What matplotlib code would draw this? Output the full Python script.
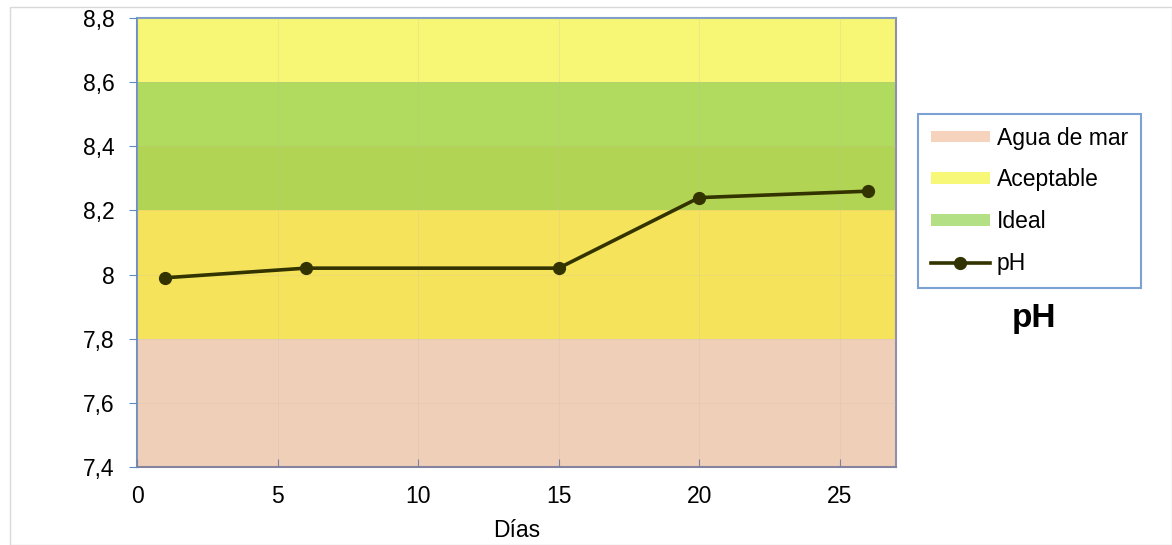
import matplotlib
matplotlib.use("Agg")
import matplotlib.pyplot as plt
from matplotlib.ticker import FuncFormatter, MultipleLocator
from matplotlib.patches import Patch, Rectangle
from matplotlib.lines import Line2D

dias = [1, 6, 15, 20, 26]
ph = [7.99, 8.02, 8.02, 8.24, 8.26]

# bands: (ymin, ymax, color)
band_edges = [7.4, 7.8, 8.2, 8.4, 8.6, 8.8]
band_colors = ["#F0CFB8", "#F5E35C", "#B2D455", "#B1DB5E", "#F7F775"]
legend_labels = ["Agua de mar", "Aceptable", "Ideal", "pH"]
legend_colors = ["#F5D3BD", "#F8F878", "#B3DF85"]

plt.rcParams['font.family'] = ['Liberation Sans', 'DejaVu Sans']
FS = 16.5

fig = plt.figure(figsize=(11.72, 5.45), dpi=100)
fig.patches.append(Rectangle((10/1172, 0), 1 - 10/1172, 1 - 7/545, transform=fig.transFigure,
                             fill=False, edgecolor="#D9D9D9", linewidth=1))
ax = fig.add_axes([137/1172, 1 - 467/545, (896 - 137)/1172, (467 - 18)/545])

for i, c in enumerate(band_colors):
    ax.axhspan(band_edges[i], band_edges[i + 1], color=c, zorder=0, linewidth=0)

ax.plot(dias, ph, color="#333300", linewidth=2.6, marker="o", markersize=8.5, zorder=3)

ax.set_xlim(0, 27)
ax.set_ylim(7.4, 8.8)
ax.xaxis.set_major_locator(MultipleLocator(5))
ax.yaxis.set_major_locator(MultipleLocator(0.2))

def fmt(v, pos):
    s = ("%.1f" % v)
    if s.endswith(".0"):
        s = s[:-2]
    return s.replace(".", ",")

ax.yaxis.set_major_formatter(FuncFormatter(fmt))
ax.xaxis.set_major_formatter(FuncFormatter(lambda v, p: "%d" % v))

ax.grid(True, color="#C8B8A8", linewidth=0.6, alpha=0.25, zorder=1)
ax.set_axisbelow(False)

ax.tick_params(axis="x", direction="in", length=6, color="#8080A0", labelsize=FS, pad=13)
ax.tick_params(axis="y", direction="out", length=6, color="#5B8BC9", labelsize=FS, pad=10)

ax.spines["left"].set_color("#6E8FC4")
ax.spines["top"].set_color("#7A9CCB")
ax.spines["bottom"].set_color("#8484A0")
ax.spines["right"].set_color("#9090A8")
for s in ax.spines.values():
    s.set_linewidth(1.5)

ax.set_xlabel("Días", fontsize=FS, labelpad=8)

handles = [Patch(facecolor=c, edgecolor="none") for c in legend_colors]
handles.append(Line2D([0], [0], color="#333300", linewidth=2.6, marker="o", markersize=8.5))
leg = fig.legend(handles, legend_labels, loc="upper left",
                 bbox_to_anchor=(918/1172, 1 - 114/545), fontsize=FS,
                 frameon=True, fancybox=False, edgecolor="#5B8BC9",
                 handlelength=2.6, handleheight=0.4, labelspacing=0.82,
                 borderpad=0.55, handletextpad=0.3, borderaxespad=0)
leg.get_frame().set_linewidth(1.5)

fig.text(1034/1172, 1 - 327/545, "pH", fontsize=24, fontweight="bold",
         ha="center", va="baseline")

fig.savefig("out.png", dpi=100)
